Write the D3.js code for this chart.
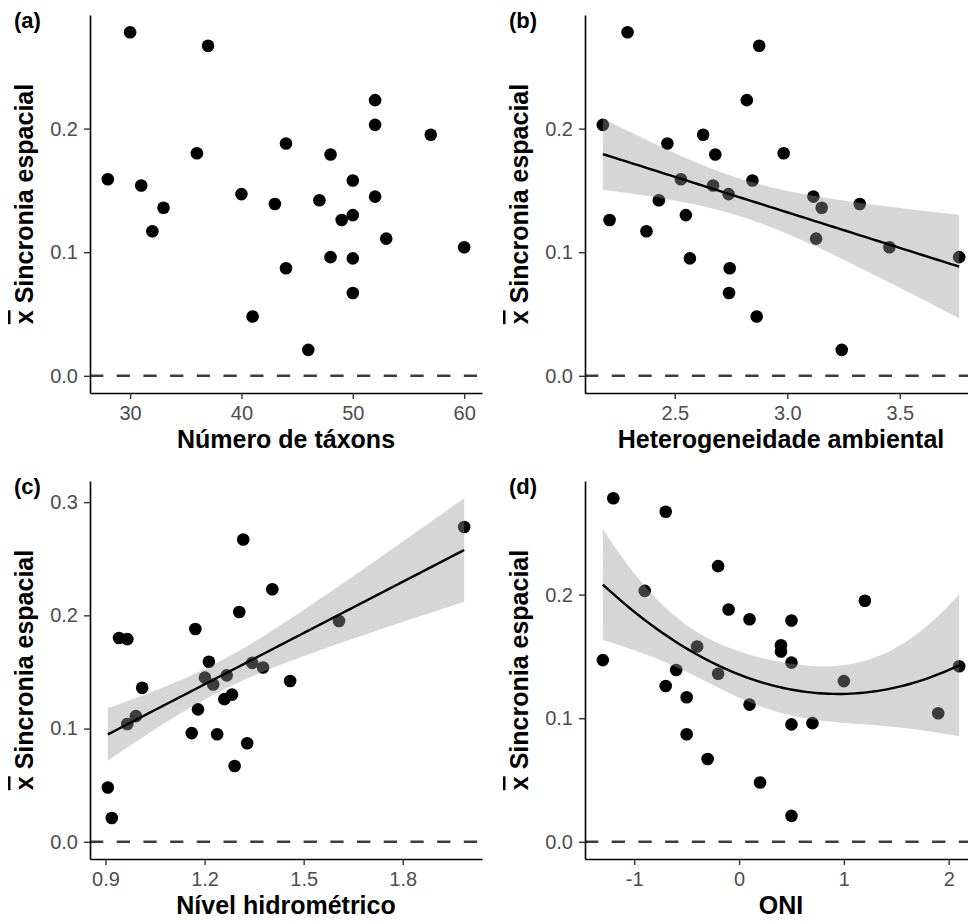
<!DOCTYPE html>
<html>
<head>
<meta charset="utf-8">
<script src="https://cdn.jsdelivr.net/npm/d3@7"></script>
<style>
  body { margin: 0; background: #fff; }
  svg { display: block; font-family: "Liberation Sans", Arial, sans-serif; }
</style>
</head>
<body>
<svg id="chart" width="968" height="922"></svg>
<script>
// mean spatial synchrony of each sampling (same y in all four panels)
var sincronia = [0.278, 0.267, 0.223, 0.203, 0.195, 0.188, 0.180, 0.179, 0.159, 0.158, 0.154, 0.147, 0.145, 0.142,
  0.139, 0.136, 0.130, 0.126, 0.117, 0.111, 0.104, 0.096, 0.095, 0.087, 0.067, 0.048, 0.021];
// predictors, in the same order as sincronia
var numTaxons = [30, 37, 52, 52, 57, 44, 36, 48, 28, 50, 31, 40, 52, 47, 43, 33, 50, 49, 32, 53, 60, 48, 50, 44, 50, 41, 46];
var heterogeneidade = [2.29, 2.875, 2.82, 2.18, 2.626, 2.467, 2.984, 2.68, 2.527, 2.845, 2.67, 2.739, 3.116, 2.429,
  3.322, 3.153, 2.549, 2.21, 2.374, 3.128, 3.454, 3.764, 2.567, 2.744, 2.741, 2.864, 3.242];
var nivelHidro = [1.986, 1.317, 1.405, 1.305, 1.607, 1.172, 0.941, 0.966, 1.213, 1.344, 1.377, 1.267, 1.201, 1.459,
  1.226, 1.011, 1.283, 1.26, 1.18, 0.992, 0.966, 1.161, 1.238, 1.329, 1.291, 0.907, 0.919];
var oni = [-1.2, -0.7, -0.2, -0.9, 1.2, -0.1, 0.1, 0.5, 0.4, -0.4, 0.4, -1.3, 0.5, 2.1, -0.6, -0.2, 1.0, -0.7, -0.5,
  0.1, 1.9, 0.7, 0.5, -0.5, -0.3, 0.2, 0.5];

var ticksTaxons = [30, 40, 50, 60],
  ticksHetero = [2.5, 3.0, 3.5],
  ticksNivel = [0.9, 1.2, 1.5, 1.8],
  ticksOni = [-1, 0, 1, 2],
  ticksY3 = [0, 0.1, 0.2],
  ticksY4 = [0, 0.1, 0.2, 0.3];

var yTitle = "Sincronia espacial";
var bandSE = 1.4; // half-width of the grey band, in standard errors (matched to the picture)

var panelW = 392,
  panelH = 378,
  left0 = 90,
  top0 = 15,
  colStep = 495,
  rowStep = 466;

var svg = d3.select("#chart");

function invert(A) { // gauss-jordan, small matrices only
  var n = A.length,
    M = A.map(function (r, i) {
      return r.concat(d3.range(n).map(function (j) { return i == j ? 1 : 0; }));
    });
  for (var c = 0; c < n; c++) {
    var piv = c;
    for (var r = c + 1; r < n; r++) if (Math.abs(M[r][c]) > Math.abs(M[piv][c])) piv = r;
    var tmp = M[c]; M[c] = M[piv]; M[piv] = tmp;
    var d = M[c][c];
    for (var k = 0; k < 2 * n; k++) M[c][k] /= d;
    for (var r = 0; r < n; r++) {
      if (r == c) continue;
      var f = M[r][c];
      for (var k = 0; k < 2 * n; k++) M[r][k] -= f * M[c][k];
    }
  }
  return M.map(function (r) { return r.slice(n); });
}

// lm(y ~ poly(x, degree)) with a band around it, like geom_smooth
function smoothFit(xs, ys, degree) {
  var n = xs.length,
    p = degree + 1,
    xm = d3.mean(xs);
  var row = function (x) {
    return d3.range(p).map(function (k) { return Math.pow(x - xm, k); });
  };
  var A = d3.range(p).map(function () { return new Array(p).fill(0); }),
    b = new Array(p).fill(0);
  xs.forEach(function (x, idx) {
    var r = row(x);
    for (var i = 0; i < p; i++) {
      b[i] += r[i] * ys[idx];
      for (var j = 0; j < p; j++) A[i][j] += r[i] * r[j];
    }
  });
  var inv = invert(A);
  var beta = inv.map(function (r) {
    return d3.sum(r, function (v, j) { return v * b[j]; });
  });
  var predict = function (x) {
    return d3.sum(row(x), function (v, k) { return v * beta[k]; });
  };
  var rss = d3.sum(xs, function (x, i) { return Math.pow(ys[i] - predict(x), 2); });
  var s = Math.sqrt(rss / (n - p)),
    ext = d3.extent(xs);
  return d3.range(80).map(function (k) {
    var x = ext[0] + (ext[1] - ext[0]) * k / 79,
      r = row(x),
      v = 0;
    for (var i = 0; i < p; i++)
      for (var j = 0; j < p; j++) v += r[i] * inv[i][j] * r[j];
    var y = predict(x),
      se = s * Math.sqrt(v);
    return { x: x, y: y, lo: y - bandSE * se, hi: y + bandSE * se };
  });
}

function expand(lo, hi) { // ggplot default 5% expansion
  var r = hi - lo;
  return [lo - 0.05 * r, hi + 0.05 * r];
}

function drawPanel(opts) {
  var xs = opts.x,
    ys = sincronia,
    fit = opts.degree ? smoothFit(xs, ys, opts.degree) : null;

  var yLo = Math.min(0, d3.min(ys)),
    yHi = d3.max(ys);
  if (fit) {
    yLo = Math.min(yLo, d3.min(fit, function (d) { return d.lo; }));
    yHi = Math.max(yHi, d3.max(fit, function (d) { return d.hi; }));
  }

  var x = d3.scaleLinear()
    .domain(expand(d3.min(xs), d3.max(xs)))
    .range([0, panelW]);
  var y = d3.scaleLinear()
    .domain(expand(yLo, yHi))
    .range([panelH, 0]);

  var g = svg.append("g")
    .attr("transform", "translate(" + (left0 + opts.col * colStep) + "," + (top0 + opts.row * rowStep) + ")");

  // reference line at zero
  g.append("line")
    .attr("x1", 0)
    .attr("x2", panelW)
    .attr("y1", y(0))
    .attr("y2", y(0))
    .attr("stroke", "#3d3d3d")
    .attr("stroke-width", 2.6)
    .attr("stroke-dasharray", "13.3,13.4");

  g.append("g").selectAll("circle")
    .data(xs)
    .enter().append("circle")
    .attr("cx", function (d) { return x(d); })
    .attr("cy", function (d, i) { return y(ys[i]); })
    .attr("r", 6.3)
    .attr("fill", "#000");

  if (fit) {
    g.append("path")
      .datum(fit)
      .attr("fill", "#999999")
      .attr("fill-opacity", 0.4)
      .attr("d", d3.area()
        .x(function (d) { return x(d.x); })
        .y0(function (d) { return y(d.lo); })
        .y1(function (d) { return y(d.hi); }));
    g.append("path")
      .datum(fit)
      .attr("fill", "none")
      .attr("stroke", "#000")
      .attr("stroke-width", 2.4)
      .attr("d", d3.line()
        .x(function (d) { return x(d.x); })
        .y(function (d) { return y(d.y); }));
  }

  var xAxis = d3.axisBottom(x)
    .tickValues(opts.ticksX)
    .tickFormat(function (d) { return d.toFixed(opts.digits); })
    .tickSize(6)
    .tickSizeOuter(0)
    .tickPadding(7);
  var yAxis = d3.axisLeft(y)
    .tickValues(opts.ticksY)
    .tickFormat(function (d) { return d.toFixed(1); })
    .tickSize(6)
    .tickSizeOuter(0)
    .tickPadding(6);

  var gx = g.append("g")
    .attr("transform", "translate(0," + panelH + ")")
    .call(xAxis);
  var gy = g.append("g").call(yAxis);

  [gx, gy].forEach(function (a) {
    a.select(".domain").attr("stroke", "#000").attr("stroke-width", 1.6);
    a.selectAll(".tick line").attr("stroke", "#333").attr("stroke-width", 1.4);
    a.selectAll(".tick text")
      .attr("fill", "#4d4d4d")
      .style("font-size", "20px")
      .style("font-family", "'Liberation Sans', Arial, sans-serif");
  });

  g.append("text")
    .attr("x", panelW / 2)
    .attr("y", panelH + 55)
    .attr("text-anchor", "middle")
    .style("font-size", "25px")
    .style("font-weight", "bold")
    .text(opts.title);

  var yt = g.append("text")
    .attr("transform", "translate(-57," + (panelH / 2) + ") rotate(-90)")
    .attr("text-anchor", "middle")
    .style("font-size", "25px")
    .style("font-weight", "bold");
  yt.append("tspan")
    .style("text-decoration", "overline")
    .text("x");
  yt.append("tspan").text(" " + yTitle);

  g.append("text")
    .attr("x", -76)
    .attr("y", 13)
    .style("font-size", "22px")
    .style("font-weight", "bold")
    .text("(" + opts.id + ")");
}

drawPanel({ id: "a", x: numTaxons, ticksX: ticksTaxons, digits: 0, ticksY: ticksY3, title: "Número de táxons", degree: 0, col: 0, row: 0 });
drawPanel({ id: "b", x: heterogeneidade, ticksX: ticksHetero, digits: 1, ticksY: ticksY3, title: "Heterogeneidade ambiental", degree: 1, col: 1, row: 0 });
drawPanel({ id: "c", x: nivelHidro, ticksX: ticksNivel, digits: 1, ticksY: ticksY4, title: "Nível hidrométrico", degree: 1, col: 0, row: 1 });
drawPanel({ id: "d", x: oni, ticksX: ticksOni, digits: 0, ticksY: ticksY3, title: "ONI", degree: 2, col: 1, row: 1 });
</script>
</body>
</html>
